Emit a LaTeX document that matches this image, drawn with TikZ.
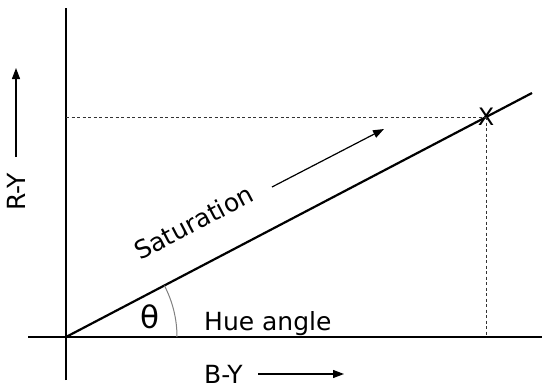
\documentclass[tikz,border=0pt]{standalone}
\usepackage{fontspec}
\setmainfont{DejaVu Sans}
\usetikzlibrary{arrows.meta}
\begin{document}
\begin{tikzpicture}[x=1pt,y=-1pt,
  axis/.style={line width=1.3pt},
  vec/.style={line width=2.2pt},
  guide/.style={line width=0.9pt, dash pattern=on 3pt off 2.5pt, black!80},
  lbl/.style={font=\fontsize{25}{29}\selectfont, inner sep=0pt},
  arr/.style={line width=1.2pt, -{Triangle[length=11pt,width=8pt]}},
  anglearc/.style={line width=1pt, gray}
]
\useasboundingbox (0,0) rectangle (542,388);
% axes
\coordinate (O) at (66,337);
\coordinate (ytop) at (66,8);
\coordinate (ybot) at (66,380);
\coordinate (xleft) at (28,337);
\coordinate (xright) at (542,337);
\draw[axis] (ybot) -- (ytop);
\draw[axis] (xleft) -- (xright);
% vector
\coordinate (vend) at (532,93);
\draw[vec] (O) -- (vend);
% point and projections
\node[lbl, font=\fontsize{24}{28}\selectfont] (P) at (486,117) {X};
\coordinate (Pc) at (486,117);
\coordinate (Py) at (66,117);
\coordinate (Px) at (486,337);
\draw[guide] (Py) -- (Pc);
\draw[guide] (Pc) -- (Px);
% angle arc
\coordinate (A0) at (177,337);
\draw[anglearc] (A0) arc[start angle=0, end angle=-27.6, radius=111];
\node[lbl, font=\fontsize{31}{34}\selectfont] (theta) at (150,317) {θ};
% labels
\node[lbl, anchor=base west] (hue) at (204,330) {Hue angle};
\node[lbl, anchor=base west] (by) at (204,383) {B-Y};
\coordinate (byS) at (258,374);
\coordinate (byE) at (344,374);
\draw[arr] (byS) -- (byE);
\node[lbl, anchor=base west, rotate=90] (ry) at (25,211) {R-Y};
\coordinate (ryS) at (16,157);
\coordinate (ryE) at (16,68);
\draw[arr] (ryS) -- (ryE);
\node[lbl, anchor=base west, rotate=27.6] (sat) at (140,261) {Saturation};
\coordinate (satS) at (272,187);
\coordinate (satE) at (384,129);
\draw[arr] (satS) -- (satE);
\end{tikzpicture}
\end{document}
